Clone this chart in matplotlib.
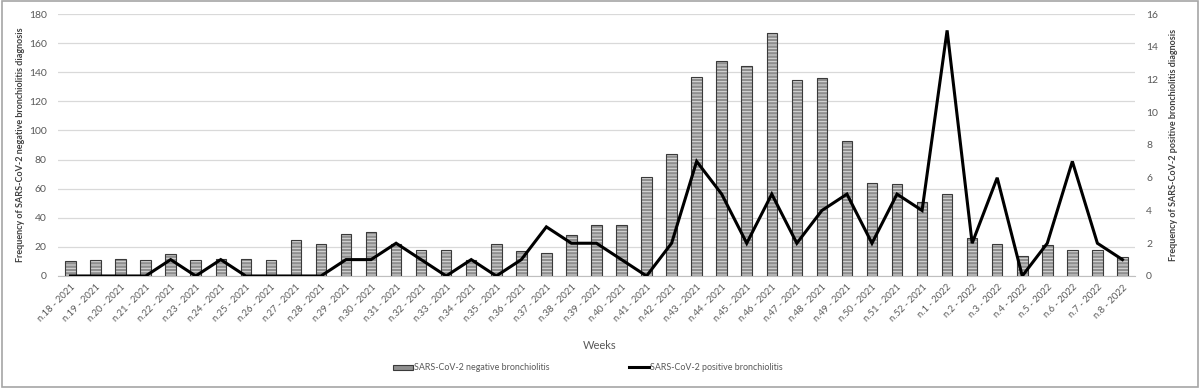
import matplotlib.pyplot as plt
import numpy as np
from matplotlib.patches import Rectangle

weeks = ["n.%d - 2021" % w for w in range(18, 53)] + ["n.%d - 2022" % w for w in range(1, 9)]

negative = [10, 11, 12, 11, 15, 11, 12, 12, 11, 25, 22, 29, 30, 22, 18, 18, 11, 22,
            17, 16, 28, 35, 35, 68, 84, 137, 148, 144, 167, 135, 136, 93, 64, 63, 51,
            56, 26, 22, 14, 21, 18, 18, 13]

positive = [0, 0, 0, 0, 1, 0, 1, 0, 0, 0, 0, 1, 1, 2, 1, 0, 1, 0,
            1, 3, 2, 2, 1, 0, 2, 7, 5, 2, 5, 2, 4, 5, 2, 5, 4,
            15, 2, 6, 0, 2, 7, 2, 1]

plt.rcParams['hatch.linewidth'] = 0.7
plt.rcParams['font.family'] = ['Lato', 'DejaVu Sans']

fig = plt.figure(figsize=(12, 3.88), dpi=100)
ax = fig.add_axes([0.0483, 0.2887, 0.8975, 0.6752])
ax2 = ax.twinx()

x = np.arange(len(weeks))
tick_col = '#595959'

ax.set_axisbelow(True)
ax.yaxis.grid(True, color='#d9d9d9', linewidth=0.9)
ax.bar(x, negative, 0.42, color='#8f8f8f', edgecolor='#dcdcdc', hatch='-----', linewidth=0, zorder=2)
ax.bar(x, negative, 0.42, fill=False, edgecolor='#3a3a3a', linewidth=0.8, zorder=3)

ax2.plot(x, positive, color='black', linewidth=2.2, solid_joinstyle='miter')

ax.set_xlim(-0.5, len(weeks) - 0.5)
ax.set_ylim(0, 180)
ax.set_yticks(range(0, 181, 20))
ax2.set_ylim(0, 16)
ax2.set_yticks(range(0, 17, 2))

ax.set_xticks(x)
ax.set_xticklabels(weeks, rotation=45, ha='right', rotation_mode='anchor', fontsize=6.8, color=tick_col)

for a in (ax, ax2):
    for s in a.spines.values():
        s.set_visible(False)
    a.tick_params(axis='y', length=0, labelsize=7.5, labelcolor=tick_col, pad=8)
ax.tick_params(axis='x', length=0, pad=5)
ax.spines['bottom'].set_visible(True)
ax.spines['bottom'].set_color('#bfbfbf')

ax.set_ylabel("Frequency of SARS-CoV-2 negative bronchiolitis diagnosis", fontsize=6.5,
              fontweight='bold', color='#404040', labelpad=3)
ax2.set_ylabel("Frequency of SARS-CoV-2 positive bronchiolitis diagnosis", fontsize=6.5,
               fontweight='bold', color='#404040', labelpad=8)

fig.text(0.5, 0.11, "Weeks", ha='center', va='center', fontsize=8, color=tick_col)

bar_handle = Rectangle((0, 0), 1, 1, facecolor='#8f8f8f', edgecolor='#3a3a3a', linewidth=0.8)
line_handle = plt.Line2D([0], [0], color='black', linewidth=2.2)
fig.legend([bar_handle, line_handle],
           ["SARS-CoV-2 negative bronchiolitis", "SARS-CoV-2 positive bronchiolitis"],
           loc='center', bbox_to_anchor=(0.49, 0.052), ncol=2, frameon=False, fontsize=6.4,
           handlelength=2.2, handleheight=0.5, columnspacing=9, handletextpad=0.1,
           labelcolor=tick_col)

fig.patches.append(Rectangle((0.002, 0.003), 0.996, 0.994, transform=fig.transFigure,
                             fill=False, edgecolor='#a6a6a6', linewidth=1.2))

fig.savefig("out.png", dpi=100)
